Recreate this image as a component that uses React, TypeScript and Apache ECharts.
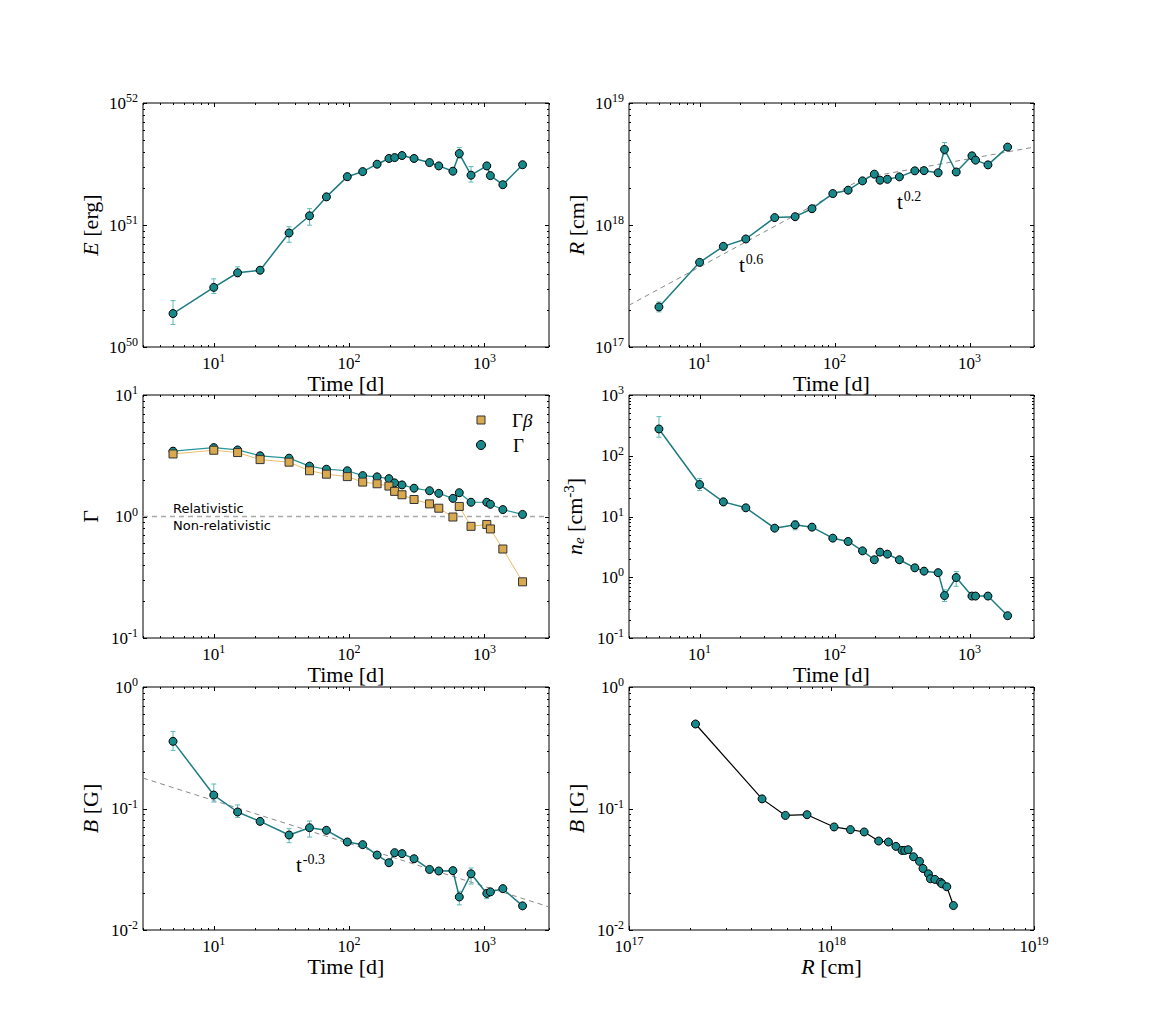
import React, { useEffect, useRef } from 'react';
import * as echarts from 'echarts';

// ---------------- data ----------------
const times = [5, 10, 15, 22, 36, 51, 68, 97, 126, 161, 197, 217, 246, 302, 393, 460, 585, 652, 796, 1041, 1107, 1368, 1913];

const energy = [1.88e50, 3.08e50, 4.06e50, 4.26e50, 8.6e50, 1.19e51, 1.70e51, 2.49e51, 2.74e51, 3.15e51, 3.51e51, 3.57e51, 3.71e51, 3.51e51, 3.25e51, 3.05e51, 2.76e51, 3.85e51, 2.56e51, 3.05e51, 2.54e51, 2.14e51, 3.12e51];
const energyLo = [1.53e50, 2.75e50, 3.76e50, 4.0e50, 7.21e50, 9.96e50, 1.6e51, 2.35e51, 2.6e51, 3.0e51, 3.35e51, 3.4e51, 3.55e51, 3.35e51, 3.1e51, 2.9e51, 2.62e51, 3.53e51, 2.25e51, 2.85e51, 2.4e51, 2.02e51, 2.95e51];
const energyHi = [2.40e50, 3.62e50, 4.54e50, 4.5e50, 9.68e50, 1.36e51, 1.82e51, 2.65e51, 2.9e51, 3.3e51, 3.7e51, 3.75e51, 3.9e51, 3.7e51, 3.4e51, 3.22e51, 2.92e51, 4.31e51, 3.01e51, 3.25e51, 2.7e51, 2.27e51, 3.3e51];

const radius = [2.13e17, 4.94e17, 6.68e17, 7.68e17, 1.15e18, 1.17e18, 1.36e18, 1.81e18, 1.93e18, 2.30e18, 2.61e18, 2.33e18, 2.37e18, 2.48e18, 2.78e18, 2.79e18, 2.68e18, 4.16e18, 2.72e18, 3.69e18, 3.40e18, 3.11e18, 4.35e18];
const radiusLo = [1.94e17, 4.75e17, 6.45e17, 7.45e17, 1.11e18, 1.13e18, 1.31e18, 1.75e18, 1.86e18, 2.22e18, 2.52e18, 2.25e18, 2.29e18, 2.40e18, 2.69e18, 2.70e18, 2.59e18, 3.80e18, 2.55e18, 3.55e18, 3.28e18, 3.0e18, 4.2e18];
const radiusHi = [2.34e17, 5.12e17, 6.9e17, 7.9e17, 1.19e18, 1.21e18, 1.41e18, 1.87e18, 2.0e18, 2.38e18, 2.7e18, 2.41e18, 2.45e18, 2.56e18, 2.87e18, 2.88e18, 2.77e18, 4.74e18, 2.85e18, 3.85e18, 3.52e18, 3.22e18, 4.5e18];
const radiusFit = [[3, 2.2e17], [166, 2.44e18], [3000, 4.35e18]];

const gammaBeta = [3.27, 3.51, 3.36, 2.94, 2.80, 2.38, 2.23, 2.13, 1.92, 1.86, 1.78, 1.61, 1.51, 1.38, 1.27, 1.17, 0.99, 1.21, 0.83, 0.86, 0.79, 0.54, 0.29];
const gamma = [3.45, 3.69, 3.53, 3.16, 3.02, 2.60, 2.45, 2.38, 2.17, 2.12, 2.05, 1.89, 1.82, 1.71, 1.63, 1.55, 1.41, 1.57, 1.31, 1.31, 1.26, 1.14, 1.04];
const relativisticLine = [[3, 1], [3000, 1]];

const density = [276, 33.6, 17.4, 13.9, 6.43, 7.29, 6.68, 4.40, 3.88, 2.72, 1.94, 2.59, 2.40, 1.94, 1.43, 1.26, 1.19, 0.50, 0.99, 0.49, 0.49, 0.49, 0.233];
const densityLo = [202, 26.7, 15.0, 12.8, 6.0, 6.04, 6.2, 4.1, 3.6, 2.53, 1.8, 2.41, 2.23, 1.8, 1.33, 1.17, 1.1, 0.40, 0.71, 0.45, 0.455, 0.455, 0.216];
const densityHi = [440, 42, 20.0, 15, 6.9, 8.5, 7.2, 4.7, 4.2, 2.92, 2.08, 2.78, 2.58, 2.08, 1.54, 1.36, 1.28, 0.62, 1.24, 0.53, 0.53, 0.53, 0.25];

const field = [0.357, 0.129, 0.0936, 0.0783, 0.0605, 0.0695, 0.0661, 0.0530, 0.0504, 0.0414, 0.0358, 0.0433, 0.0425, 0.0386, 0.0315, 0.0306, 0.0308, 0.0187, 0.0290, 0.0200, 0.0206, 0.0219, 0.0158];
const fieldLo = [0.301, 0.113, 0.0845, 0.074, 0.0523, 0.0582, 0.063, 0.050, 0.048, 0.0395, 0.034, 0.041, 0.0405, 0.0368, 0.030, 0.029, 0.0294, 0.0161, 0.0239, 0.0181, 0.0196, 0.0208, 0.015];
const fieldHi = [0.431, 0.159, 0.107, 0.083, 0.0682, 0.0789, 0.070, 0.0556, 0.053, 0.0435, 0.0376, 0.0455, 0.0447, 0.0405, 0.033, 0.0321, 0.0323, 0.0208, 0.0324, 0.0212, 0.0216, 0.023, 0.0166];
const fieldFit = [[3, 0.178], [3000, 0.0155]];

const radiusModel = [2.13e17, 4.54e17, 5.92e17, 7.57e17, 1.03e18, 1.24e18, 1.45e18, 1.71e18, 1.91e18, 2.08e18, 2.23e18, 2.30e18, 2.39e18, 2.54e18, 2.72e18, 2.83e18, 3.01e18, 3.08e18, 3.24e18, 3.45e18, 3.51e18, 3.71e18, 4.00e18];
const fieldModel = [0.496, 0.120, 0.0877, 0.0889, 0.0705, 0.0670, 0.0641, 0.0540, 0.0530, 0.0488, 0.0452, 0.0452, 0.0458, 0.0401, 0.0367, 0.0321, 0.0290, 0.0264, 0.0261, 0.0247, 0.0240, 0.0227, 0.0159];

const timeRange = [3, 3000];
const radiusRange = [1e17, 1e19];
const yRanges = [[1e50, 1e52], [1e17, 1e19], [0.1, 10], [0.1, 1000], [0.01, 1], [0.01, 1]];

// ---------------- styles ----------------
const SERIF = 'Liberation Serif';
const SANS = 'DejaVu Sans';
const TEAL = '#17898b';
const TEAL_LINE = '#1d7c82';
const ERR = '#5db8b8';
const GOLD = '#d8a94f';
const GOLD_LINE = '#ecbc68';

const tickRich = {
  b: { fontFamily: SERIF, fontSize: 17, color: '#000' },
  s: { fontFamily: SERIF, fontSize: 12, color: '#000', padding: [0, 0, 10, 0] },
};

function logLabel(v: number) {
  const e = Math.log10(v);
  const r = Math.round(e);
  if (Math.abs(e - r) > 1e-6) return '';
  return `{b|10}{s|${r}}`;
}

const nameRich = {
  n: { fontFamily: SERIF, fontSize: 22, color: '#000' },
  i: { fontFamily: SERIF, fontSize: 22, color: '#000', fontStyle: 'italic' },
  sub: { fontFamily: SERIF, fontSize: 15, color: '#000', fontStyle: 'italic', padding: [9, 0, 0, 0] },
  sup: { fontFamily: SERIF, fontSize: 15, color: '#000', padding: [0, 0, 11, 0] },
};

const grids = [
  { left: 143, top: 103, width: 406, height: 244 },
  { left: 629, top: 103, width: 405, height: 244 },
  { left: 143, top: 395, width: 406, height: 243 },
  { left: 629, top: 395, width: 405, height: 243 },
  { left: 143, top: 687, width: 406, height: 243 },
  { left: 629, top: 687, width: 405, height: 243 },
].map((g) => ({ ...g, show: true, borderColor: '#000', borderWidth: 1, backgroundColor: 'transparent' }));

const yNames = [
  '{i|E} [erg]',
  '{i|R} [cm]',
  '{n|Γ}',
  '{i|n}{sub|e} [cm{sup|-3}]',
  '{i|B} [G]',
  '{i|B} [G]',
];

function logTicks(min: number, max: number) {
  const out: [number, boolean][] = [];
  const e0 = Math.floor(Math.log10(min)) - 1;
  const e1 = Math.ceil(Math.log10(max)) + 1;
  for (let e = e0; e <= e1; e++) {
    for (let m = 1; m <= 9; m++) {
      const v = m * Math.pow(10, e);
      if (v >= min * (1 - 1e-9) && v <= max * (1 + 1e-9)) out.push([v, m === 1]);
    }
  }
  return out;
}

function tickSeries(gi: number, xr: number[], yr: number[]) {
  return {
    type: 'custom',
    xAxisIndex: gi,
    yAxisIndex: gi,
    z: 10,
    silent: true,
    data: [[xr[0], yr[0]]],
    encode: { x: 0, y: 1 },
    renderItem: (params: any, api: any) => {
      const cs = params.coordSys;
      const top = cs.y, bot = cs.y + cs.height, left = cs.x, right = cs.x + cs.width;
      const children: any[] = [];
      const st = { stroke: '#000', lineWidth: 1 };
      for (const [v, major] of logTicks(xr[0], xr[1])) {
        const px = Math.round(api.coord([v, yr[0]])[0]) + 0.5;
        const L = major ? 4 : 2;
        children.push({ type: 'line', shape: { x1: px, y1: bot, x2: px, y2: bot - L }, style: st });
        children.push({ type: 'line', shape: { x1: px, y1: top, x2: px, y2: top + L }, style: st });
      }
      for (const [v, major] of logTicks(yr[0], yr[1])) {
        const py = Math.round(api.coord([xr[0], v])[1]) + 0.5;
        const L = major ? 4 : 2;
        children.push({ type: 'line', shape: { x1: left, y1: py, x2: left + L, y2: py }, style: st });
        children.push({ type: 'line', shape: { x1: right, y1: py, x2: right - L, y2: py }, style: st });
      }
      return { type: 'group', children };
    },
  };
}

function errorSeries(gi: number, lo: number[], hi: number[]) {
  return {
    type: 'custom',
    xAxisIndex: gi,
    yAxisIndex: gi,
    z: 1,
    silent: true,
    data: times.map((t, i) => [t, lo[i], hi[i]]),
    encode: { x: 0, y: [1, 2] },
    renderItem: (params: any, api: any) => {
      const p1 = api.coord([api.value(0), api.value(1)]);
      const p2 = api.coord([api.value(0), api.value(2)]);
      const w = 2.5;
      const st = { stroke: ERR, lineWidth: 1 };
      return {
        type: 'group',
        children: [
          { type: 'line', shape: { x1: p1[0], y1: p1[1], x2: p2[0], y2: p2[1] }, style: st },
          { type: 'line', shape: { x1: p1[0] - w, y1: p1[1], x2: p1[0] + w, y2: p1[1] }, style: st },
          { type: 'line', shape: { x1: p2[0] - w, y1: p2[1], x2: p2[0] + w, y2: p2[1] }, style: st },
        ],
      };
    },
  };
}

function markerLine(gi: number, xs: number[], ys: number[], opts: any = {}) {
  return {
    type: 'line',
    xAxisIndex: gi,
    yAxisIndex: gi,
    z: 3,
    data: xs.map((x, i) => [x, ys[i]]),
    symbol: opts.symbol || 'circle',
    symbolSize: opts.symbolSize || 8,
    showAllSymbol: true,
    itemStyle: { color: opts.fill || TEAL, borderColor: opts.border || '#000', borderWidth: 1, opacity: 1 },
    lineStyle: { color: opts.line || TEAL_LINE, width: opts.width || 1.5 },
    silent: true,
  };
}

function dashedLine(gi: number, pts: number[][], color: string, width = 1) {
  return {
    type: 'line',
    xAxisIndex: gi,
    yAxisIndex: gi,
    z: 0,
    data: pts,
    symbol: 'none',
    lineStyle: { color, width, type: [5, 4] },
    silent: true,
  };
}

function buildOption() {
  const xAxis = grids.map((_, gi) => ({
    type: 'log',
    gridIndex: gi,
    logBase: 10,
    min: gi === 5 ? radiusRange[0] : timeRange[0],
    max: gi === 5 ? radiusRange[1] : timeRange[1],
    axisLine: { show: false },
    axisTick: { show: false },
    splitLine: { show: false },
    axisLabel: { formatter: logLabel, rich: tickRich, margin: 5, showMinLabel: true, showMaxLabel: true },
    name: gi === 5 ? '{i|R} [cm]' : '{n|Time [d]}',
    nameLocation: 'middle',
    nameGap: 21,
    nameTextStyle: { fontFamily: SERIF, fontSize: 22, color: '#000', rich: nameRich },
  }));
  const yAxis = grids.map((_, gi) => ({
    type: 'log',
    gridIndex: gi,
    logBase: 10,
    min: yRanges[gi][0],
    max: yRanges[gi][1],
    axisLine: { show: false },
    axisTick: { show: false },
    splitLine: { show: false },
    axisLabel: { formatter: logLabel, rich: tickRich, margin: 5, showMinLabel: true, showMaxLabel: true },
    name: yNames[gi],
    nameLocation: 'middle',
    nameRotate: 90,
    nameGap: 42,
    nameTextStyle: { fontFamily: SERIF, fontSize: 22, color: '#000', rich: nameRich },
  }));

  const series: any[] = [
    errorSeries(0, energyLo, energyHi),
    markerLine(0, times, energy),
    errorSeries(1, radiusLo, radiusHi),
    dashedLine(1, radiusFit, '#8a8a8a'),
    markerLine(1, times, radius),
    dashedLine(2, relativisticLine, '#a8a8a8', 1.3),
    markerLine(2, times, gamma, { width: 1.2, line: '#2a9598' }),
    markerLine(2, times, gammaBeta, { symbol: 'rect', fill: GOLD, border: '#333', line: GOLD_LINE, width: 1 }),
    errorSeries(3, densityLo, densityHi),
    markerLine(3, times, density),
    errorSeries(4, fieldLo, fieldHi),
    dashedLine(4, fieldFit, '#8a8a8a'),
    markerLine(4, times, field),
    markerLine(5, radiusModel, fieldModel, { line: '#000', width: 1.2 }),
  ];
  grids.forEach((_, gi) => {
    series.push(tickSeries(gi, gi === 5 ? radiusRange : timeRange, yRanges[gi]));
  });

  const supText = (x: number, y: number, base: string, exp: string) => ({
    type: 'text',
    x,
    y,
    z: 20,
    style: {
      text: `{t|${base}}{e|${exp}}`,
      rich: {
        t: { fontFamily: SERIF, fontSize: 21, fill: '#000' },
        e: { fontFamily: SERIF, fontSize: 14, fill: '#000', padding: [0, 0, 12, 1] },
      },
      verticalAlign: 'middle',
    },
  });

  const graphic: any[] = [
    { type: 'rect', shape: { x: 477, y: 416, width: 8, height: 8 }, style: { fill: GOLD, stroke: '#333', lineWidth: 1 }, z: 20 },
    {
      type: 'text', x: 512, y: 420, z: 20,
      style: {
        text: '{n|Γ}{i|β}',
        rich: {
          n: { fontFamily: SERIF, fontSize: 19, fill: '#000' },
          i: { fontFamily: SERIF, fontSize: 19, fill: '#000', fontStyle: 'italic' },
        },
        verticalAlign: 'middle',
      },
    },
    { type: 'circle', shape: { cx: 481, cy: 445, r: 4.5 }, style: { fill: TEAL, stroke: '#000', lineWidth: 1 }, z: 20 },
    { type: 'text', x: 513, y: 445, z: 20, style: { text: 'Γ', fontFamily: SERIF, fontSize: 19, fill: '#000', verticalAlign: 'middle' } },
    { type: 'text', x: 173, y: 508, z: 20, style: { text: 'Relativistic', fontFamily: SANS, fontSize: 13, fill: '#000', verticalAlign: 'middle' } },
    { type: 'text', x: 173, y: 525, z: 20, style: { text: 'Non-relativistic', fontFamily: SANS, fontSize: 13, fill: '#000', verticalAlign: 'middle' } },
    supText(739, 265, 't', '0.6'),
    supText(897, 202, 't', '0.2'),
    supText(296, 865, 't', '-0.3'),
  ];

  return {
    animation: false,
    backgroundColor: '#fff',
    grid: grids,
    xAxis,
    yAxis,
    series,
    graphic,
  };
}

export default function App() {
  const ref = useRef<HTMLDivElement>(null);
  useEffect(() => {
    const chart = echarts.init(ref.current as HTMLDivElement, null, { renderer: 'svg' });
    chart.setOption(buildOption() as any);
    return () => chart.dispose();
  }, []);
  return (
    <div
      ref={ref}
      style={{ position: 'absolute', left: 0, top: 0, width: 1149, height: 1034, background: '#fff' }}
    />
  );
}
